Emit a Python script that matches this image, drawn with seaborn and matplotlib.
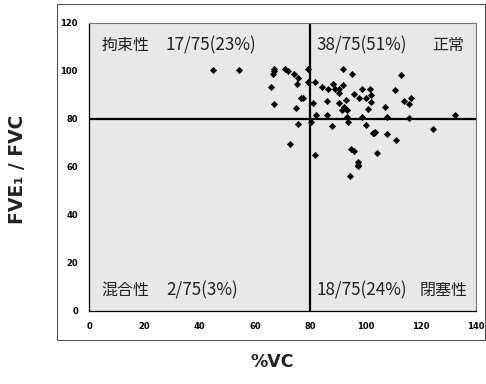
import numpy as np
import pandas as pd
import matplotlib
matplotlib.use("Agg")
import matplotlib.pyplot as plt
from matplotlib.patches import Rectangle
import seaborn as sns

# %VC values
vc = [
    # restrictive
    45.0, 54.3, 66.8, 66.5, 71.0, 74.1, 75.6, 75.3, 79.2, 79.2, 65.8, 76.8, 77.5, 66.8, 74.9, 67.0, 72.0,
    # mixed
    72.7, 75.6,
    # normal
    81.7, 91.8, 95.2, 84.3, 86.5, 88.2, 88.9, 90.3, 90.3, 91.9, 95.8, 98.8, 81.0, 86.1, 90.6, 93.0,
    92.4, 93.3, 91.5, 97.8, 100.2, 101.7, 102.0, 101.9, 101.0, 112.8, 110.7, 116.6, 113.9, 115.7,
    107.2, 82.2, 86.1, 93.3, 98.6, 107.7, 115.7, 132.3,
    # obstructive
    80.2, 93.8, 87.9, 100.2, 102.9, 103.5, 107.9, 111.1, 124.3, 104.3, 81.9, 94.8, 95.8, 97.4, 97.4,
    94.4, 103.2, 97.4,
]
# FEV1/FVC values
ratio = [
    100.3, 100.5, 100.7, 98.75, 100.7, 98.75, 97.0, 94.5, 100.7, 95.5, 93.2, 88.9, 88.9, 86.25, 84.5, 100.0, 100.0,
    69.4, 77.8,
    95.3, 100.7, 98.75, 93.2, 92.4, 94.6, 92.4, 92.4, 90.7, 94.2, 90.3, 92.4, 86.8, 87.5, 86.8, 87.9,
    85.1, 83.75, 83.75, 88.6, 88.6, 92.4, 89.8, 87.0, 84.2, 98.3, 92.0, 88.9, 87.5, 86.4,
    84.9, 81.7, 81.7, 81.0, 80.7, 80.8, 80.5, 81.5,
    78.9, 78.6, 77.1, 77.5, 74.0, 74.5, 73.9, 71.1, 76.0, 65.7, 65.0, 67.5, 66.7, 62.2, 60.5,
    56.4, 74.2, 61.0,
]

quadrant_names = ["拘束性", "正常", "混合性", "閉塞性"]
quadrant_counts = ["17/75(23%)", "38/75(51%)", "2/75(3%)", "18/75(24%)"]
x_ticks = [0, 20, 40, 60, 80, 100, 120, 140]
y_ticks = [0, 20, 40, 60, 80, 100, 120]
x_label = "%VC"
y_label = "FVE₁ / FVC"

df = pd.DataFrame({"vc": vc, "ratio": ratio})

sns.set_theme(style="white")
plt.rcParams["font.family"] = ["Noto Sans CJK JP", "DejaVu Sans"]

W, H = 486, 384
fig = plt.figure(figsize=(W / 100, H / 100), dpi=100)
ax = fig.add_axes([89 / W, 1 - 311 / H, (476 - 89) / W, (311 - 23) / H])
ax.set_facecolor("#e8e8e8")

ax.axhline(80, color="black", lw=1.6, zorder=2)
ax.axvline(80, color="black", lw=1.6, zorder=2)

sns.scatterplot(data=df, x="vc", y="ratio", ax=ax, marker="D", s=11,
                color="black", edgecolor="black", linewidth=0.3, zorder=3)

ax.set_xlim(0, 140)
ax.set_ylim(0, 120)
ax.set_xticks(x_ticks)
ax.set_yticks(y_ticks)
ax.tick_params(axis="both", direction="in", length=2, width=0.6, labelsize=6,
               pad=8, colors="black")
for lbl in ax.get_xticklabels() + ax.get_yticklabels():
    lbl.set_fontweight("bold")
    lbl.set_family("DejaVu Sans")
ax.set_xlabel("")
ax.set_ylabel("")

for side in ["left", "bottom"]:
    ax.spines[side].set_color("black")
    ax.spines[side].set_linewidth(0.9)
for side in ["top", "right"]:
    ax.spines[side].set_color("#777777")
    ax.spines[side].set_linewidth(0.8)
    ax.spines[side].set_linestyle((0, (1, 1)))

fs = 11.5
fs_n = 12.3
tc = "#222222"
ytop, ybot = 110.5, 8.5
# top-left: restrictive
ax.text(4.6, ytop, quadrant_names[0], fontsize=fs, va="center", ha="left", color=tc)
ax.text(27.8, ytop, quadrant_counts[0], fontsize=fs_n, va="center", ha="left", color=tc)
# top-right: normal
ax.text(82.4, ytop, quadrant_counts[1], fontsize=fs_n, va="center", ha="left", color=tc)
ax.text(135.6, ytop, quadrant_names[1], fontsize=fs, va="center", ha="right", color=tc)
# bottom-left: mixed
ax.text(4.6, ybot, quadrant_names[2], fontsize=fs, va="center", ha="left", color=tc)
ax.text(27.8, ybot, quadrant_counts[2], fontsize=fs_n, va="center", ha="left", color=tc)
# bottom-right: obstructive
ax.text(82.4, ybot, quadrant_counts[3], fontsize=fs_n, va="center", ha="left", color=tc)
ax.text(136.8, ybot, quadrant_names[3], fontsize=fs, va="center", ha="right", color=tc)

# outer chart frame
fig.patches.append(Rectangle((57 / W, 1 - 340 / H), (485 - 57) / W, (340 - 4) / H,
                             transform=fig.transFigure, fill=False,
                             edgecolor="#555555", lw=0.8))

fig.text(272 / W, 1 - 362 / H, x_label, fontsize=12.5, fontweight="bold",
         ha="center", va="center", family="DejaVu Sans", color=tc)
fig.text(18 / W, 1 - 169 / H, y_label, fontsize=13.5, fontweight="bold",
         ha="center", va="center", rotation=90, family="DejaVu Sans", color=tc)

fig.savefig("out.png", dpi=100)
